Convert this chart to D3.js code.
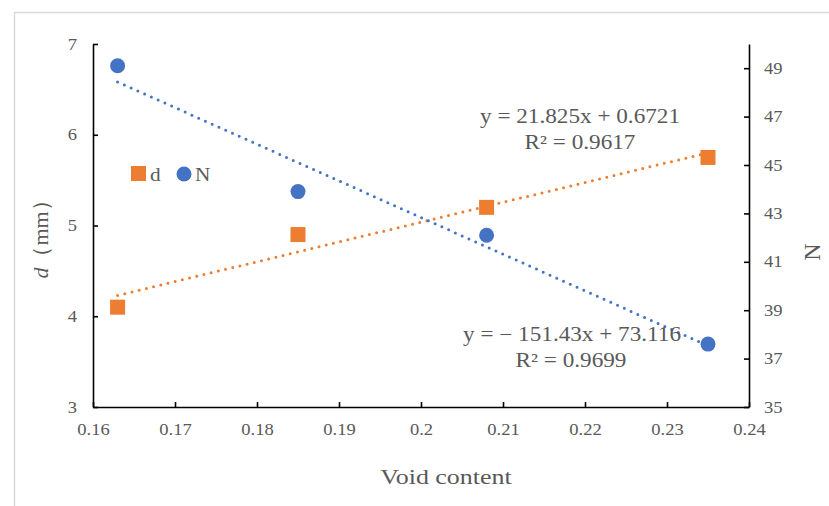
<!DOCTYPE html>
<html><head><meta charset="utf-8">
<script src="https://cdn.jsdelivr.net/npm/d3@7"></script>
<style>body{margin:0;background:#fff}svg{display:block}</style>
</head><body><svg id="c" width="829" height="506"></svg>
<script>
const voidContent = [0.163, 0.185, 0.208, 0.235];
const dValues = [4.1, 4.9, 5.2, 5.75];
const nValues = [49.1, 43.9, 42.1, 37.6];
const xTicks = [0.16,0.17,0.18,0.19,0.2,0.21,0.22,0.23,0.24];
const xTickLabels = ["0.16","0.17","0.18","0.19","0.2","0.21","0.22","0.23","0.24"];
const leftTicks = [3,4,5,6,7];
const rightTicks = [35,37,39,41,43,45,47,49];
const trendD = {slope: 21.825, intercept: 0.6721};
const trendN = {slope: -151.43, intercept: 73.116};
const eqD = ["y = 21.825x + 0.6721", "R² = 0.9617"];
const eqN = ["y = − 151.43x + 73.116", "R² = 0.9699"];

const ORANGE = "#ED7D31", BLUE = "#4472C4", TXT = "#595959";
const FONT = "'Liberation Serif','Times New Roman',serif";
const SX = 1.16;

const svg = d3.select("#c");
svg.append("rect").attr("x",14.5).attr("y",12.5).attr("width",900).attr("height",600)
  .attr("fill","#fff").attr("stroke","#d9d9d9").attr("stroke-width",1.5);

const x = d3.scaleLinear().domain([0.16,0.24]).range([93,749]);
const yL = d3.scaleLinear().domain([3,7]).range([407,44]);
const yR = d3.scaleLinear().domain([35,50]).range([407,44]);

function styleAxis(g){
  g.select(".domain").attr("stroke","#000").attr("stroke-width",1.6);
  g.selectAll(".tick line").attr("stroke","#000").attr("stroke-width",1.6);
  g.selectAll("text").attr("fill",TXT).attr("font-family",FONT).attr("font-size",16);
}

// bottom axis
const gx = svg.append("g").attr("transform","translate(0,407)")
  .call(d3.axisBottom(x).tickValues(xTicks).tickFormat((d,i)=>xTickLabels[i]).tickSizeInner(-5).tickSizeOuter(0).tickPadding(17));
styleAxis(gx);
gx.selectAll("text").attr("transform",`scale(${SX},1)`);

// left axis
const gl = svg.append("g").attr("transform","translate(93,0)")
  .call(d3.axisLeft(yL).tickValues(leftTicks).tickFormat(d3.format("d")).tickSizeInner(-5).tickSizeOuter(0).tickPadding(16));
styleAxis(gl);
gl.selectAll("text").attr("x",-16/SX).attr("transform",`scale(${SX},1)`);

// right axis
const gr = svg.append("g").attr("transform","translate(749,0)")
  .call(d3.axisRight(yR).tickValues(rightTicks).tickFormat(d3.format("d")).tickSizeInner(-5).tickSizeOuter(0).tickPadding(15));
styleAxis(gr);
gr.selectAll("text").attr("x",15/SX).attr("transform",`scale(${SX},1)`);

// trendlines
const xr = d3.extent(voidContent);
const line = d3.line().x(d=>x(d[0])).y(d=>d[1]);
svg.append("path").attr("d", line(xr.map(v=>[v, yL(trendD.slope*v+trendD.intercept)])))
  .attr("stroke",ORANGE).attr("stroke-width",3).attr("stroke-linecap","round").attr("stroke-dasharray","0 7.4").attr("fill","none");
svg.append("path").attr("d", line(xr.map(v=>[v, yR(trendN.slope*v+trendN.intercept)])))
  .attr("stroke",BLUE).attr("stroke-width",3).attr("stroke-linecap","round").attr("stroke-dasharray","0 7.4").attr("fill","none");

// markers
const S = 15;
svg.append("g").selectAll("rect").data(voidContent).join("rect")
  .attr("x",(d)=>x(d)-S/2).attr("y",(d,i)=>yL(dValues[i])-S/2).attr("width",S).attr("height",S).attr("fill",ORANGE);
svg.append("g").selectAll("circle").data(voidContent).join("circle")
  .attr("cx",d=>x(d)).attr("cy",(d,i)=>yR(nValues[i])).attr("r",7.5).attr("fill",BLUE);

function stext(px, py, str, size, anchor, sx){
  const g = svg.append("g").attr("transform",`translate(${px},${py}) scale(${sx},1)`);
  return g.append("text").attr("text-anchor",anchor).attr("dominant-baseline","central")
    .attr("font-family",FONT).attr("font-size",size).attr("fill",TXT).text(str);
}

// legend
svg.append("rect").attr("x",131).attr("y",166).attr("width",15).attr("height",15).attr("fill",ORANGE);
stext(150,174,"d",19,"start",1.12);
svg.append("circle").attr("cx",184).attr("cy",174).attr("r",7.5).attr("fill",BLUE);
stext(195,174,"N",19,"start",1.12);

// equations
stext(580,117,eqD[0],20,"middle",SX);
stext(580,143,eqD[1],20,"middle",SX);
stext(572,335,eqN[0],20,"middle",SX);
stext(571,361,eqN[1],20,"middle",SX);

// axis titles
stext(446,477,"Void content",22,"middle",1.18);
const lt = svg.append("text").attr("transform","translate(40,234) rotate(-90)")
  .attr("text-anchor","middle").attr("dominant-baseline","central")
  .attr("font-family",FONT).attr("font-size",22).attr("fill",TXT);
lt.append("tspan").attr("font-style","italic").text("d");
lt.append("tspan").text("（mm）");
svg.append("text").attr("transform","translate(812,252) rotate(-90)")
  .attr("text-anchor","middle").attr("dominant-baseline","central")
  .attr("font-family",FONT).attr("font-size",24).attr("fill",TXT).text("N");
</script></body></html>
